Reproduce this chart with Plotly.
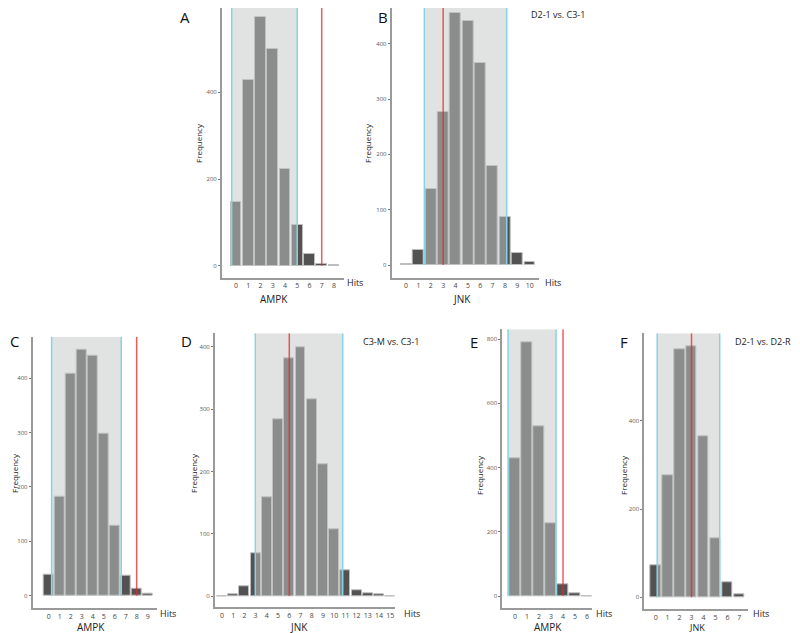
import plotly.graph_objects as go

# page is 800x633; the html body has an 8px margin, so the figure is 792x625
PAGE_OFF = 8
W, H = 792, 625

# ---------------- data ----------------
hits_A = list(range(0, 9))
freq_A = [148, 429, 573, 499, 224, 94, 26, 3, 2]
hits_B = list(range(0, 11))
freq_B = [1, 28, 137, 277, 455, 442, 365, 179, 86, 22, 5]
hits_C = list(range(0, 10))
freq_C = [39, 182, 408, 453, 441, 298, 129, 36, 12, 3]
hits_D = list(range(0, 16))
freq_D = [0, 2, 15, 68, 159, 284, 381, 400, 316, 212, 107, 41, 9, 5, 2, 0]
hits_E = list(range(0, 7))
freq_E = [430, 789, 530, 226, 36, 7, 0]
hits_F = list(range(0, 8))
freq_F = [73, 276, 562, 569, 365, 134, 33, 7]

interval_A = [-0.35, 5.0]
interval_B = [1.48, 8.14]
interval_C = [0.27, 6.6]
interval_D = [2.97, 10.76]
interval_E = [-0.58, 3.42]
interval_F = [0.13, 5.36]

observed_A = 7
observed_B = 3
observed_C = 8
observed_D = 6
observed_E = 4
observed_F = 3

yticks_A = [0, 200, 400, 600]
yticks_B = [0, 100, 200, 300, 400]
yticks_C = [0, 100, 200, 300, 400]
yticks_D = [0, 100, 200, 300, 400]
yticks_E = [0, 200, 400, 600, 800]
yticks_F = [0, 200, 400]

letters = ["A", "B", "C", "D", "E", "F"]
kinases = ["AMPK", "JNK", "AMPK", "JNK", "AMPK", "JNK"]
comparisons = {"B": "D2-1 vs. C3-1", "D": "C3-M vs. C3-1", "F": "D2-1 vs. D2-R"}

# ---------------- layout geometry (page pixels) ----------------
panels = [
    dict(hits=hits_A, freq=freq_A, iv=interval_A, obs=observed_A, yt=yticks_A,
         px=(222, 344, 8, 278), xr=[-1.14, 8.82], yr=[-28.4, 594.7],
         letter=(185, 17), freqlab=(199, 143), hitslab=(355, 283), kin=(274, 299)),
    dict(hits=hits_B, freq=freq_B, iv=interval_B, obs=observed_B, yt=yticks_B,
         px=(391.7, 539, 8, 278), xr=[-1.16, 10.75], yr=[-23.5, 464.7],
         letter=(383, 17), freqlab=(368, 143), hitslab=(553, 283), kin=(462, 299),
         comp=(558, 15)),
    dict(hits=hits_C, freq=freq_C, iv=interval_C, obs=observed_C, yt=yticks_C,
         px=(32.7, 156.7, 336.7, 608.3), xr=[-1.45, 9.82], yr=[-23.2, 476.5],
         letter=(8, 341), freqlab=(14, 473), hitslab=(168, 613), kin=(91, 627)),
    dict(hits=hits_D, freq=freq_D, iv=interval_D, obs=observed_D, yt=yticks_D,
         px=(215, 395, 333.3, 607.3), xr=[-0.62, 15.42], yr=[-18.1, 421.7],
         letter=(186, 341), freqlab=(193, 473), hitslab=(412, 613), kin=(299, 627),
         comp=(391, 341)),
    dict(hits=hits_E, freq=freq_E, iv=interval_E, obs=observed_E, yt=yticks_E,
         px=(502.3, 591.7, 329.3, 608.3), xr=[-1.06, 6.39], yr=[-38.3, 830.8],
         letter=(474, 342), freqlab=(479, 475), hitslab=(604, 613), kin=(548, 627)),
    dict(hits=hits_F, freq=freq_F, iv=interval_F, obs=observed_F, yt=yticks_F,
         px=(644.3, 748.3, 333.3, 609.3), xr=[-0.95, 7.75], yr=[-27.2, 598],
         letter=(624, 342), freqlab=(623, 475), hitslab=(761, 613), kin=(697, 627.5),
         comp=(763, 341)),
]

FONT = "Open Sans"
AXIS_COL = "#9a9a9a"
BAR_COL = "#525252"
SHADE = "rgba(195,197,197,0.5)"
CYAN = "#86d4e3"
RED = "rgba(230,40,40,0.75)"


def fx(p):
    return min(max((p - PAGE_OFF) / W, 0), 1)


def fy(p):
    return min(max(1 - (p - PAGE_OFF) / H, 0), 1)


def txt(text, pos, size, color="#222", angle=0, xanchor="center"):
    return dict(text=text, x=fx(pos[0]), y=fy(pos[1]), xref="paper", yref="paper",
                xanchor=xanchor, yanchor="middle", showarrow=False, textangle=angle,
                font=dict(family=FONT, size=size, color=color))


fig = go.Figure()
shapes = []
annotations = []
layout_axes = {}

for i, p in enumerate(panels):
    n = i + 1
    xa = "x" if n == 1 else f"x{n}"
    ya = "y" if n == 1 else f"y{n}"
    l, r, t, b = p["px"]
    fig.add_trace(go.Bar(
        x=p["hits"], y=p["freq"], xaxis=xa, yaxis=ya, width=0.88,
        marker=dict(color=BAR_COL, line=dict(color="#bdbdbd", width=1)),
        showlegend=False, hoverinfo="x+y"))
    xkey = "xaxis" if n == 1 else f"xaxis{n}"
    ykey = "yaxis" if n == 1 else f"yaxis{n}"
    layout_axes[xkey] = dict(
        domain=[fx(l), fx(r)], anchor=ya, range=p["xr"],
        tickvals=p["hits"], ticktext=[str(h) for h in p["hits"]],
        showline=True, linecolor=AXIS_COL, linewidth=2, ticks="",
        showgrid=False, zeroline=False,
        tickfont=dict(family=FONT, size=7, color="#444"), fixedrange=True)
    layout_axes[ykey] = dict(
        domain=[fy(b), fy(t)], anchor=xa, range=p["yr"],
        tickvals=p["yt"], showline=True, linecolor=AXIS_COL, linewidth=2,
        ticks="outside", ticklen=2, tickcolor="#777", tickwidth=1,
        showgrid=False, zeroline=False,
        tickfont=dict(family=FONT, size=6, color="#555"), fixedrange=True)

    top = p["yr"][1]
    x0, x1 = p["iv"]
    shapes.append(dict(type="rect", xref=xa, yref=ya, x0=x0, x1=x1, y0=0, y1=top,
                       fillcolor=SHADE, line=dict(width=0), layer="above"))
    for xv in (x0, x1):
        shapes.append(dict(type="line", xref=xa, yref=ya, x0=xv, x1=xv, y0=0, y1=top,
                           line=dict(color=CYAN, width=1.5), layer="above"))
    shapes.append(dict(type="line", xref=xa, yref=ya, x0=p["obs"], x1=p["obs"],
                       y0=0, y1=top, line=dict(color=RED, width=1.5), layer="above"))

    annotations.append(txt(letters[i], p["letter"], 15, "#111",
                           xanchor="left" if letters[i] == "C" else "center"))
    annotations.append(txt("Frequency", p["freqlab"], 8, angle=-90))
    annotations.append(txt("Hits", p["hitslab"], 9))
    annotations.append(txt(kinases[i], p["kin"], 9 if letters[i] == "F" else 10))
    if letters[i] in comparisons:
        annotations.append(txt(comparisons[letters[i]], p["comp"], 9))

fig.update_layout(
    width=W, height=H, margin=dict(l=0, r=0, t=0, b=0),
    paper_bgcolor="white", plot_bgcolor="white",
    shapes=shapes, annotations=annotations, bargap=0, **layout_axes)

fig.write_html("out.html")
